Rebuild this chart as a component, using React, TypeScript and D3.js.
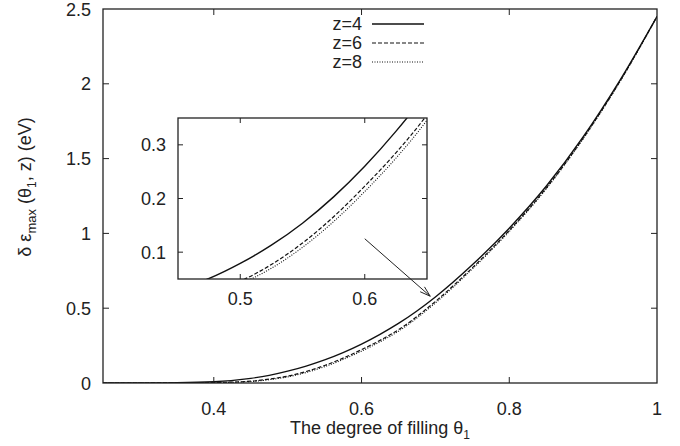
import React from "react";
import * as d3 from "d3";

const theta = [0.25, 0.30, 0.35, 0.40, 0.45, 0.475, 0.50, 0.525, 0.55, 0.575, 0.60, 0.625, 0.65, 0.70, 0.75, 0.80, 0.85, 0.90, 0.95, 1.0];
const z4 = [0, 0.0002, 0.0015, 0.008, 0.031, 0.051, 0.079, 0.113, 0.154, 0.203, 0.260, 0.325, 0.398, 0.575, 0.790, 1.035, 1.315, 1.645, 2.025, 2.45];
const z6 = [0, 0.0001, 0.0006, 0.003, 0.012, 0.026, 0.046, 0.077, 0.117, 0.166, 0.223, 0.285, 0.356, 0.545, 0.770, 1.020, 1.303, 1.636, 2.018, 2.45];
const z8 = [0, 0.0001, 0.0005, 0.0025, 0.010, 0.022, 0.041, 0.070, 0.109, 0.157, 0.213, 0.275, 0.346, 0.535, 0.762, 1.013, 1.297, 1.632, 2.015, 2.45];

const seriesNames = ["z=4", "z=6", "z=8"];
const xTicks = [0.4, 0.6, 0.8, 1];
const yTicks = [0, 0.5, 1, 1.5, 2, 2.5];
const insetXTicks = [0.5, 0.6];
const insetYTicks = [0.1, 0.2, 0.3];

const FONT = "'Liberation Sans', Arial, Helvetica, sans-serif";
const dashes = ["none", "4,2", "1,1.5"];
const strokeW = [1.4, 1.2, 1.1];

export default function App() {
  const series = [z4, z6, z8];
  const L = 103, R = 657, T = 9, B = 383;
  const x = d3.scaleLinear().domain([0.25, 1]).range([L, R]);
  const y = d3.scaleLinear().domain([0, 2.5]).range([B, T]);

  const iL = 178, iR = 427, iT = 118, iB = 279;
  const ix = d3.scaleLinear().domain([0.45, 0.65]).range([iL, iR]);
  const iy = d3.scaleLinear().domain([0.05, 0.35]).range([iB, iT]);

  const mkLine = (sx: any, sy: any) =>
    d3.line<number>().x((_, i) => sx(theta[i])).y((d) => sy(d)).curve(d3.curveMonotoneX);
  const mainLine = mkLine(x, y);
  const insetLine = mkLine(ix, iy);

  const tickLen = 6;
  const arrowFrom = [ix(0.6), iy(0.125)];
  const arrowTo = [x(0.693), y(0.58)];
  const ang = Math.atan2(arrowTo[1] - arrowFrom[1], arrowTo[0] - arrowFrom[0]);
  const ah = 11, aw = 0.3;
  const a1 = [arrowTo[0] - ah * Math.cos(ang - aw), arrowTo[1] - ah * Math.sin(ang - aw)];
  const a2 = [arrowTo[0] - ah * Math.cos(ang + aw), arrowTo[1] - ah * Math.sin(ang + aw)];

  return (
    <svg width={680} height={446} style={{ position: "absolute", left: 0, top: 0, background: "#fff" }} fontFamily={FONT}>
      <defs>
        <clipPath id="mainClip"><rect x={L} y={T} width={R - L} height={B - T} /></clipPath>
        <clipPath id="insetClip"><rect x={iL} y={iT} width={iR - iL} height={iB - iT} /></clipPath>
      </defs>
      <rect width={680} height={446} fill="#fff" />
      <g clipPath="url(#mainClip)">
        {series.map((s, k) => (
          <path key={k} d={mainLine(s) || ""} fill="none" stroke="#111" strokeWidth={strokeW[k]} strokeDasharray={dashes[k]} />
        ))}
      </g>
      <rect x={L} y={T} width={R - L} height={B - T} fill="none" stroke="#222" strokeWidth={1.3} />
      {xTicks.filter((v) => v < 1).map((v) => (
        <g key={"xt" + v} stroke="#222" strokeWidth={1}>
          <line x1={x(v)} x2={x(v)} y1={B} y2={B - tickLen} />
          <line x1={x(v)} x2={x(v)} y1={T} y2={T + tickLen} />
        </g>
      ))}
      {yTicks.filter((v) => v > 0 && v < 2.5).map((v) => (
        <g key={"yt" + v} stroke="#222" strokeWidth={1}>
          <line x1={L} x2={L + tickLen} y1={y(v)} y2={y(v)} />
          <line x1={R} x2={R - tickLen} y1={y(v)} y2={y(v)} />
        </g>
      ))}
      {xTicks.map((v) => (
        <text key={"xl" + v} x={x(v)} y={415} fontSize={18} textAnchor="middle" fill="#222">{String(v)}</text>
      ))}
      {yTicks.map((v) => (
        <text key={"yl" + v} x={91} y={y(v) + 6.5} fontSize={18} textAnchor="end" fill="#222">{String(v)}</text>
      ))}
      <text x={380} y={434} fontSize={18} textAnchor="middle" fill="#222">
        The degree of filling θ<tspan fontSize={12} dy={5}>1</tspan>
      </text>
      <text transform={`translate(31,187) rotate(-90)`} fontSize={18} textAnchor="middle" fill="#222">
        δ ε<tspan fontSize={13} dy={5}>max</tspan><tspan dy={-5}> (θ</tspan><tspan fontSize={12} dy={5}>1</tspan><tspan dy={-5}>, z) (eV)</tspan>
      </text>
      {seriesNames.map((n, k) => {
        const ly = 24 + k * 19;
        return (
          <g key={n}>
            <text x={362} y={ly + 6} fontSize={18} textAnchor="end" fill="#222">{n}</text>
            <line x1={372} x2={424} y1={ly} y2={ly} stroke="#111" strokeWidth={strokeW[k]} strokeDasharray={dashes[k]} />
          </g>
        );
      })}
      <rect x={iL} y={iT} width={iR - iL} height={iB - iT} fill="#fff" />
      <g clipPath="url(#insetClip)">
        {series.map((s, k) => (
          <path key={k} d={insetLine(s) || ""} fill="none" stroke="#111" strokeWidth={strokeW[k]} strokeDasharray={dashes[k]} />
        ))}
      </g>
      <rect x={iL} y={iT} width={iR - iL} height={iB - iT} fill="none" stroke="#222" strokeWidth={1.3} />
      {insetXTicks.map((v) => (
        <g key={"ixt" + v} stroke="#222" strokeWidth={1}>
          <line x1={ix(v)} x2={ix(v)} y1={iB} y2={iB - 5} />
          <line x1={ix(v)} x2={ix(v)} y1={iT} y2={iT + 5} />
        </g>
      ))}
      {insetYTicks.map((v) => (
        <g key={"iyt" + v} stroke="#222" strokeWidth={1}>
          <line x1={iL} x2={iL + 5} y1={iy(v)} y2={iy(v)} />
          <line x1={iR} x2={iR - 5} y1={iy(v)} y2={iy(v)} />
        </g>
      ))}
      {insetXTicks.map((v) => (
        <text key={"ixl" + v} x={ix(v)} y={305} fontSize={18} textAnchor="middle" fill="#222">{String(v)}</text>
      ))}
      {insetYTicks.map((v) => (
        <text key={"iyl" + v} x={166} y={iy(v) + 6.5} fontSize={18} textAnchor="end" fill="#222">{String(v)}</text>
      ))}
      <g stroke="#222" strokeWidth={1} fill="none">
        <line x1={arrowFrom[0]} y1={arrowFrom[1]} x2={arrowTo[0]} y2={arrowTo[1]} />
        <polyline points={`${a1[0]},${a1[1]} ${arrowTo[0]},${arrowTo[1]} ${a2[0]},${a2[1]}`} />
      </g>
    </svg>
  );
}
